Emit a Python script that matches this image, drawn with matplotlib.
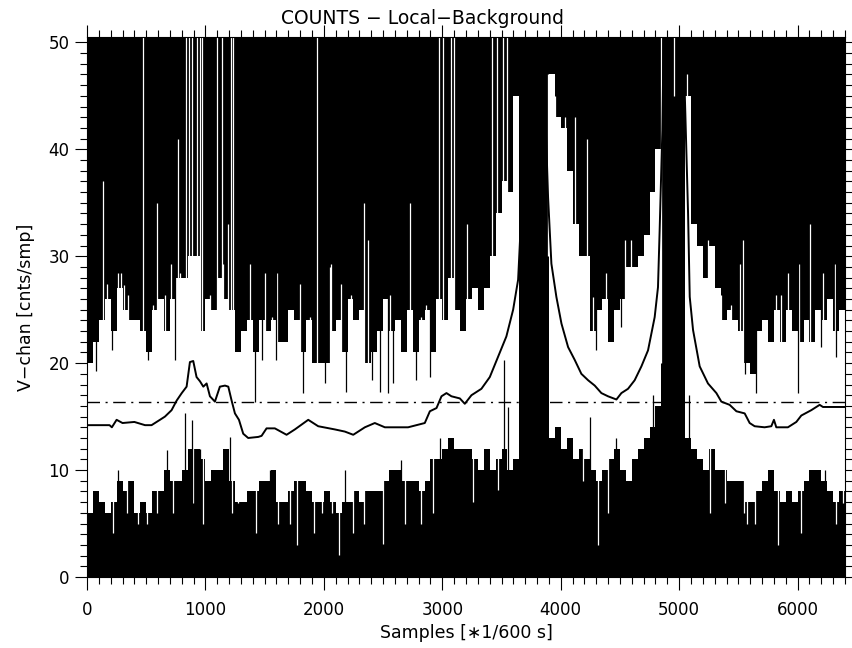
import numpy as np
import matplotlib
matplotlib.use("Agg")
import matplotlib.pyplot as plt
from matplotlib.ticker import MultipleLocator

# counts per 50-sample bin: lower and upper edge of the white (data) band
bin_width = 50
band_lo = [6, 8, 7, 6, 7, 9, 8, 9, 6, 7,
           6, 8, 8, 10, 9, 9, 10, 12, 12, 11,
           9, 10, 10, 12, 9, 7, 7, 8, 8, 9,
           9, 10, 7, 7, 8, 9, 9, 8, 7, 7,
           8, 7, 6, 7, 7, 8, 7, 8, 8, 8,
           9, 10, 10, 9, 9, 9, 8, 9, 11, 11,
           12, 13, 12, 12, 12, 11, 10, 12, 10, 11,
           12, 10, 11, 60, 60, 60, 60, 60, 13, 14,
           12, 13, 11, 12, 11, 10, 9, 10, 11, 12,
           10, 9, 11, 12, 13, 14, 16, 60, 60, 60,
           60, 13, 12, 11, 10, 12, 10, 10, 9, 9,
           9, 7, 7, 8, 9, 10, 8, 7, 8, 7,
           8, 9, 10, 10, 9, 8, 7, 8]
band_hi = [20, 22, 24, 26, 23, 27, 25, 24, 24, 23,
           21, 25, 26, 23, 26, 28, 28, 30, 30, 23,
           26, 25, 28, 26, 25, 21, 23, 24, 21, 24,
           23, 24, 22, 22, 25, 24, 21, 24, 20, 20,
           20, 23, 24, 21, 26, 24, 25, 20, 21, 23,
           26, 23, 24, 21, 25, 21, 24, 25, 21, 26,
           24, 28, 25, 23, 26, 27, 25, 27, 30, 34,
           37, 36, 45, 70, 70, 70, 70, 70, 47, 43,
           42, 38, 33, 30, 30, 23, 25, 26, 22, 25,
           26, 29, 29, 30, 32, 36, 40, 70, 70, 70,
           70, 45, 33, 31, 28, 31, 27, 24, 25, 24,
           23, 20, 19, 23, 24, 22, 25, 22, 25, 23,
           22, 24, 22, 25, 24, 26, 23, 25]

# single-sample excursions above the band
spike_up_x = [135, 166, 264, 287, 315, 349, 470, 560, 590, 658,
              709, 768, 785, 840, 860, 886, 930, 955, 970, 1038,
              1097, 1139, 1150, 1190, 1220, 1232, 1375, 1502, 1558, 1601,
              1797, 1882, 1941, 2050, 2059, 2144, 2228, 2338, 2371, 2515,
              2557, 2726, 2824, 2866, 2970, 3004, 3072, 3097, 3207, 3418,
              3460, 3510, 3544, 3895, 3950, 4034, 4118, 4219, 4273, 4385,
              4540, 4596, 4723, 4844, 4954, 5063, 5131, 5243, 5356, 5440,
              5511, 5540, 5820, 5862, 5918, 6012, 6101, 6214, 6312]
spike_up_bot = [20, 20, 20, 20, 20, 20, 20, 20, 20, 20,
                20, 20, 20, 20, 20, 20, 20, 20, 20, 20,
                20, 20, 20, 20, 20, 20, 20, 20, 20, 20,
                20, 20, 20, 20, 20, 20, 20, 20, 20, 20,
                20, 20, 20, 20, 20, 20, 20, 20, 20, 20,
                20, 20, 20, 30, 30, 30, 25, 25, 20, 20,
                20, 20, 25, 20, 45, 30, 25, 25, 20, 20,
                20, 20, 20, 20, 20, 20, 20, 20, 20]
spike_up_top = [37, 27.4, 28.4, 28.4, 27.3, 26.4, 51, 25.4, 35, 26.4,
                29.3, 41, 28.4, 51, 51, 51, 51, 51, 51, 26.4,
                51, 51, 29.3, 33, 51, 51, 29.3, 28.4, 24.3, 28.4,
                27.4, 24.3, 51, 29, 29.3, 27.4, 26.4, 35, 31.5, 25.3,
                26.4, 35, 24.3, 25.4, 51, 51, 51, 51, 33, 51,
                51, 51, 51, 47, 45, 43, 43, 41, 26.2, 28.4,
                31.5, 31.5, 31.5, 51, 51, 47, 30.4, 31.5, 26.4, 25.4,
                29.3, 31.5, 26.4, 26.4, 28.4, 29.3, 33, 28.4, 29.3]

# single-sample excursions below the band
spike_dn_x = [222, 335, 433, 503, 588, 729, 897, 982, 1221, 1277,
              1430, 1615, 1713, 1769, 1918, 1980, 2065, 2127, 2248, 2340,
              2501, 2684, 2824, 2923, 3260, 3471, 4188, 4315, 4399, 5257,
              5390, 5547, 5570, 5637, 5834, 6031, 6326, 6383]
spike_dn_bot = [4.1, 6, 5, 5, 6, 6, 6.9, 5, 6, 6.9,
                4.1, 5, 5, 3, 4.1, 6, 6, 2.1, 4.1, 5,
                3.1, 5, 5, 6, 7, 8.1, 9, 3, 6, 6,
                6.9, 6, 5, 5, 3, 4.1, 5, 6.9]

# dark excursions cutting into the band from below / above
black_up_x = [264, 672, 827, 883, 954, 1080, 1207, 1544, 2177, 2557,
              2655, 2979, 3063, 3522, 3556, 4245, 4470, 4776, 5080, 6172,
              6228]
black_up_top = [10, 11.9, 15.3, 14.7, 12, 10, 13.1, 10, 10, 10,
                10.9, 13.0, 13, 20.3, 15.9, 15, 13, 17, 17, 10,
                10]

black_dn_x = [73, 208, 518, 743, 1277, 1418, 1474, 1600, 1826, 2009,
              2191, 2403, 2473, 2543, 2585, 2782, 2895, 4301, 4427, 4512,
              5553, 5651, 5999, 6197, 6326]
black_dn_bot = [19.3, 21.2, 20.3, 20.3, 21.2, 16.4, 20.3, 20.3, 17.2, 18.1,
                17.3, 18.4, 17.3, 17.2, 18.1, 18.4, 18.7, 21.2, 22.5, 23.4,
                19.0, 17.2, 17.2, 21.5, 20.6]

# local background (smoothed)
bg_s = [0, 190, 210, 250, 300, 400, 490, 545, 616, 658, 714, 757, 800, 841, 869,
        897, 925, 954, 982, 1010, 1038, 1080, 1122, 1165, 1193, 1221, 1249, 1283,
        1319, 1361, 1446, 1474, 1516, 1586, 1685, 1755, 1868, 1952, 2093, 2177,
        2248, 2346, 2430, 2515, 2711, 2852, 2895, 2951, 2993, 3035, 3077, 3148,
        3190, 3246, 3330, 3401, 3471, 3541, 3598, 3640, 3660, 3675, 3682, 3700,
        3760, 3851, 3865, 3893, 3921, 3963, 4006, 4062, 4118, 4174, 4231, 4287,
        4343, 4399, 4470, 4512, 4568, 4624, 4681, 4737, 4793, 4821, 4835, 4858,
        4869, 4950, 5032, 5052, 5075, 5089, 5117, 5173, 5243, 5314, 5356, 5426,
        5483, 5553, 5595, 5637, 5721, 5778, 5800, 5820, 5918, 5989, 6031, 6115,
        6186, 6214, 6400]
bg_c = [14.2, 14.2, 14.0, 14.7, 14.4, 14.5, 14.2, 14.2, 14.7, 15.0, 15.6, 16.5,
        17.2, 17.8, 20.1, 20.2, 18.7, 18.3, 17.8, 18.1, 16.9, 16.4, 17.8, 17.9,
        17.8, 16.5, 15.3, 14.7, 13.4, 13.0, 13.1, 13.2, 13.9, 13.9, 13.3, 13.8,
        14.7, 14.1, 13.8, 13.6, 13.3, 14.0, 14.4, 14.0, 14.0, 14.4, 15.5, 15.8,
        16.9, 17.2, 16.9, 16.7, 16.2, 17.0, 17.6, 18.7, 20.6, 22.5, 25.0, 27.8,
        32.4, 41.8, 51, 60, 60, 51, 45, 35.5, 29.3, 26.2, 23.7, 21.5, 20.3, 19.0,
        18.4, 17.9, 17.2, 16.9, 16.6, 17.2, 17.6, 18.4, 19.7, 21.2, 24.3, 27.1,
        32.4, 41.8, 51, 60, 51, 43.3, 34.0, 26.2, 23.1, 19.7, 18.1, 17.2, 16.4,
        16.1, 15.5, 15.3, 14.4, 14.1, 14.0, 14.1, 14.7, 14.0, 14.0, 14.5, 15.1,
        15.6, 16.1, 15.9, 15.9]

threshold = 16.4

plt.rcParams['font.family'] = ['DejaVu Sans']

fig = plt.figure(figsize=(8.53, 6.48), dpi=100)
ax = fig.add_axes([87 / 853, 71 / 648, 758 / 853, 540 / 648])
ax.set_facecolor('black')

edges = np.arange(len(band_lo) + 1) * bin_width
ax.fill_between(edges, band_lo + [band_lo[-1]], band_hi + [band_hi[-1]],
                step='post', color='white', lw=0)

ax.vlines(spike_up_x, spike_up_bot, spike_up_top, color='white', lw=0.9)
ax.vlines(spike_dn_x, spike_dn_bot, 15, color='white', lw=0.9)
ax.vlines(black_up_x, 0, black_up_top, color='black', lw=0.9)
ax.vlines(black_dn_x, black_dn_bot, 51, color='black', lw=0.9)

ax.plot(bg_s, bg_c, color='black', lw=1.4)
ax.axhline(threshold, color='black', lw=1.0, dashes=(9, 4, 1.5, 4))

ax.set_xlim(0, 6400)
ax.set_ylim(0, 50.5)
ax.xaxis.set_major_locator(MultipleLocator(1000))
ax.xaxis.set_minor_locator(MultipleLocator(100))
ax.yaxis.set_major_locator(MultipleLocator(10))
ax.yaxis.set_minor_locator(MultipleLocator(1))
ax.tick_params(which='both', direction='out', top=True, right=True,
               labelsize=12, width=0.8)
ax.tick_params(which='major', length=9)
ax.tick_params(which='minor', length=5)
ax.tick_params(axis='x', which='major', pad=8)
for sp in ax.spines.values():
    sp.set_linewidth(0.8)

ax.set_xlabel('Samples [\u22171/600 s]', fontsize=12.5, labelpad=4)
ax.set_ylabel('V\u2212chan [cnts/smp]', fontsize=12.5, labelpad=10)
fig.text(0.495, 0.972, 'COUNTS \u2212 Local\u2212Background', ha='center',
         va='center', fontsize=13.5)

fig.savefig('out.png', dpi=100)
